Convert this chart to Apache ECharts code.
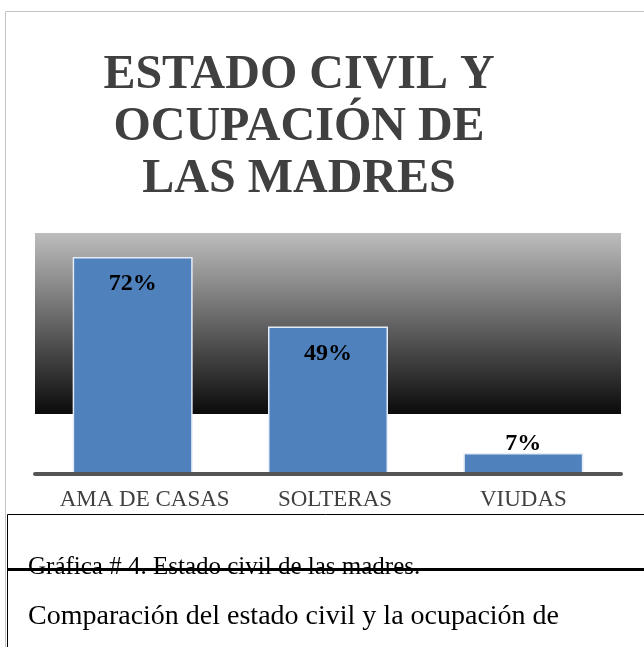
<!DOCTYPE html>
<html lang="es">
<head>
    <meta charset="UTF-8">
    <title>Estado civil y ocupación de las madres</title>
    <script src="https://cdn.jsdelivr.net/npm/echarts@6/dist/echarts.min.js"></script>
    <style>
        html, body {margin: 0; padding: 0; background: #fff;}
        #main {width: 644px; height: 647px;}
    </style>
</head>
<body>
<div id="main"></div>
<script type="text/javascript">
    var categories = ['AMA DE CASAS', 'SOLTERAS', 'VIUDAS'];
    var values = [72, 49, 7];
    var titleText = 'ESTADO CIVIL Y\nOCUPACIÓN DE\nLAS MADRES';
    var captionText = 'Gráfica # 4. Estado civil de las madres.';
    var bodyText = 'Comparación del estado civil y la ocupación de';

    // desplazamiento de las etiquetas del eje, como en el original de Word
    var labelShift = [24, 14, 0];

    var serif = '"Liberation Serif", "Times New Roman", serif';
    var myChart = echarts.init(document.getElementById('main'));

    // barras bajas llevan la etiqueta encima
    var barData = values.map(function (v) {
        return {
            value: v,
            label: {position: v < 20 ? 'top' : 'insideTop', distance: v < 20 ? -3 : 15}
        };
    });

    var axisData = categories.map(function (c, i) {
        return {value: c, textStyle: {padding: [0, 0, 0, labelShift[i]]}};
    });

    var option = {
        animation: false,
        title: {
            text: titleText,
            left: 294,
            top: 45,
            textAlign: 'center',
            textStyle: {
                fontFamily: serif,
                fontWeight: 'bold',
                fontSize: 48,
                lineHeight: 52,
                color: '#404040'
            }
        },
        grid: {
            left: 35,
            right: 23,
            top: 233,
            bottom: 173,
            show: true,
            borderWidth: 0,
            backgroundColor: {
                type: 'linear', x: 0, y: 0, x2: 0, y2: 1,
                colorStops: [
                    {offset: 0, color: '#bdbdbd'},
                    {offset: 0.752, color: '#0a0a0a'},
                    {offset: 0.752, color: '#ffffff'},
                    {offset: 1, color: '#ffffff'}
                ]
            }
        },
        xAxis: {
            type: 'category',
            data: axisData,
            z: 5,
            axisLine: {lineStyle: {color: '#555555', width: 4}},
            axisTick: {show: false},
            axisLabel: {
                interval: 0,
                hideOverlap: false,
                fontFamily: serif,
                fontSize: 23,
                color: '#404040',
                margin: 14
            }
        },
        yAxis: {
            type: 'value',
            min: 0,
            max: 80,
            show: false,
            splitLine: {show: false}
        },
        series: [{
            type: 'bar',
            data: barData,
            barWidth: 120,
            itemStyle: {color: '#4f81bd', borderColor: '#e4ecf5', borderWidth: 1.5},
            label: {
                show: true,
                formatter: '{c}%',
                fontFamily: serif,
                fontWeight: 'bold',
                fontSize: 24,
                color: '#000000'
            }
        }],
        graphic: [
            // marco gris del gráfico
            {type: 'line', z: 10, shape: {x1: 5.5, y1: 11.5, x2: 644, y2: 11.5}, style: {stroke: '#c3c3c3', lineWidth: 1}},
            {type: 'line', z: 10, shape: {x1: 5.5, y1: 11.5, x2: 5.5, y2: 647}, style: {stroke: '#c3c3c3', lineWidth: 1}},
            // cuadro de texto inferior
            {type: 'line', z: 10, shape: {x1: 7.5, y1: 514.5, x2: 644, y2: 514.5}, style: {stroke: '#000', lineWidth: 1}},
            {type: 'line', z: 10, shape: {x1: 7.5, y1: 514.5, x2: 7.5, y2: 647}, style: {stroke: '#000', lineWidth: 1}},
            {type: 'text', z: 10, left: 28, top: 555, style: {text: captionText, font: '25px ' + serif, fill: '#000'}},
            {type: 'line', z: 11, shape: {x1: 7, y1: 569.5, x2: 644, y2: 569.5}, style: {stroke: '#000', lineWidth: 3}},
            {type: 'text', z: 10, left: 28, top: 603, style: {text: bodyText, font: '28px ' + serif, fill: '#000'}}
        ]
    };

    myChart.setOption(option);
</script>
</body>
</html>
